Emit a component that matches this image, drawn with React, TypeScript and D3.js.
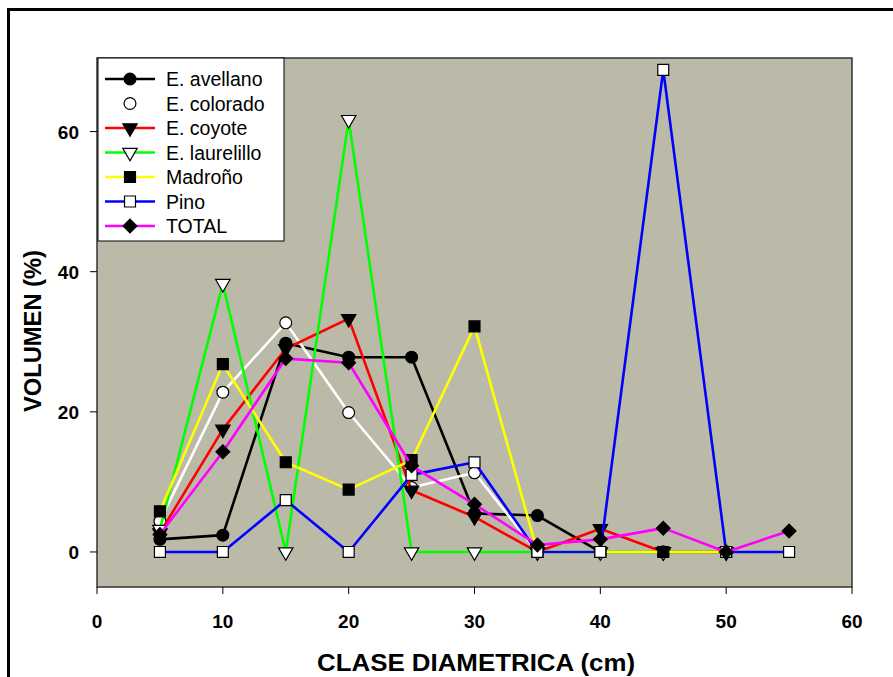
import React from 'react';
import * as d3 from 'd3';

// diameter classes (cm)
const clases = [5, 10, 15, 20, 25, 30, 35, 40, 45, 50, 55];

const avellano = [1.8, 2.4, 29.8, 27.8, 27.8, 5.5, 5.2, 0, 0, 0];
const colorado = [4.4, 22.8, 32.7, 19.9, 9.2, 11.3, 0, 0, 0, 0];
const coyote = [2.7, 17.5, 29.0, 33.3, 8.8, 5.0, 0, 3.3, 0, 0];
const laurelillo = [3.2, 38.3, 0, 61.7, 0, 0, 0, 0, 0, 0];
const madrono = [5.8, 26.8, 12.8, 8.9, 13.1, 32.2, 0, 0, 0, 0];
const pino = [0, 0, 7.4, 0, 11.0, 12.8, 0, 0, 68.8, 0, 0];
const total = [2.5, 14.3, 27.6, 27.0, 12.3, 6.8, 1.0, 1.8, 3.4, 0, 3.0];

const xTicks = [0, 10, 20, 30, 40, 50, 60];
const yTicks = [0, 20, 40, 60];

type Mk = 'circle' | 'tri' | 'square' | 'diamond';

const series: { name: string; values: number[]; color: string; marker: Mk; fill: string }[] = [
  { name: 'E. avellano', values: avellano, color: '#000000', marker: 'circle', fill: '#000' },
  { name: 'E. colorado', values: colorado, color: '#ffffff', marker: 'circle', fill: '#fff' },
  { name: 'E. coyote', values: coyote, color: '#ff0000', marker: 'tri', fill: '#000' },
  { name: 'E. laurelillo', values: laurelillo, color: '#00ff00', marker: 'tri', fill: '#fff' },
  { name: 'Madroño', values: madrono, color: '#ffff00', marker: 'square', fill: '#000' },
  { name: 'Pino', values: pino, color: '#0000ff', marker: 'square', fill: '#fff' },
  { name: 'TOTAL', values: total, color: '#ff00ff', marker: 'diamond', fill: '#000' },
];

const W = 893;
const H = 677;
const left = 97, right = 852, top = 58, bottom = 587;

const x = d3.scaleLinear().domain([0, 60]).range([left, right]);
const y = d3.scaleLinear().domain([-5, 70.5]).range([bottom, top]);

const symPath = (m: Mk) => {
  if (m === 'circle') return d3.symbol(d3.symbolCircle, 110)() as string;
  if (m === 'square') return d3.symbol(d3.symbolSquare, 120)() as string;
  if (m === 'diamond') return d3.symbol(d3.symbolSquare, 95)() as string;
  return d3.symbol(d3.symbolTriangle, 90)() as string;
};
const symRot = (m: Mk) => (m === 'tri' ? 180 : m === 'diamond' ? 45 : 0);

function Marker({ m, cx, cy, fill }: { m: Mk; cx: number; cy: number; fill: string }) {
  return (
    <path
      d={symPath(m)}
      transform={`translate(${cx},${cy}) rotate(${symRot(m)})`}
      fill={fill}
      stroke="#000"
      strokeWidth={1.2}
    />
  );
}

export default function App() {
  const line = d3.line<number>().x((_, i) => x(clases[i])).y((v) => y(v));
  const font = '"Liberation Sans", Arial, sans-serif';

  return (
    <svg width={W} height={H} style={{ position: 'absolute', left: 0, top: 0, background: '#fff' }}>
      {/* outer frame */}
      <rect x={8.5} y={9.5} width={W + 20} height={H + 20} fill="none" stroke="#000" strokeWidth={3} />

      {/* plot area */}
      <rect x={left} y={top} width={right - left} height={bottom - top} fill="#bbbaa9" stroke="#333" strokeWidth={1.5} />

      {/* x axis */}
      {xTicks.map((t) => (
        <g key={'x' + t}>
          <line x1={x(t)} x2={x(t)} y1={bottom} y2={bottom + 7} stroke="#000" strokeWidth={1} />
          <text x={x(t)} y={628} textAnchor="middle" fontFamily={font} fontWeight="bold" fontSize={19}>
            {t}
          </text>
        </g>
      ))}
      {/* y axis */}
      {yTicks.map((t) => (
        <g key={'y' + t}>
          <line x1={left - 7} x2={left} y1={y(t)} y2={y(t)} stroke="#000" strokeWidth={1} />
          <text x={79} y={y(t) + 7} textAnchor="end" fontFamily={font} fontWeight="bold" fontSize={19}>
            {t}
          </text>
        </g>
      ))}

      <text x={476} y={671} textAnchor="middle" fontFamily={font} fontWeight="bold" fontSize={24}
        textLength={318} lengthAdjust="spacingAndGlyphs">
        CLASE DIAMETRICA (cm)
      </text>
      <text
        transform={`translate(41,331) rotate(-90)`}
        textAnchor="middle"
        fontFamily={font}
        fontWeight="bold"
        fontSize={24}
        textLength={162}
        lengthAdjust="spacingAndGlyphs"
      >
        VOLUMEN (%)
      </text>

      {/* series */}
      {series.map((s) => (
        <g key={s.name}>
          <path d={line(s.values) as string} fill="none" stroke={s.color} strokeWidth={2.6} strokeLinejoin="round" />
          {s.values.map((v, i) => (
            <Marker key={i} m={s.marker} cx={x(clases[i])} cy={y(v)} fill={s.fill} />
          ))}
        </g>
      ))}

      {/* legend */}
      <rect x={98} y={58} width={186} height={183} fill="#fff" stroke="#000" strokeWidth={1} />
      {series.map((s, i) => {
        const ly = 79 + i * 24.5;
        return (
          <g key={'lg' + s.name}>
            {s.color !== '#ffffff' && (
              <line x1={105} x2={155} y1={ly} y2={ly} stroke={s.color} strokeWidth={2.6} />
            )}
            <Marker m={s.marker} cx={130} cy={ly} fill={s.fill} />
            <text x={166} y={ly + 7} fontFamily={font} fontSize={19.5}>
              {s.name}
            </text>
          </g>
        );
      })}
    </svg>
  );
}
